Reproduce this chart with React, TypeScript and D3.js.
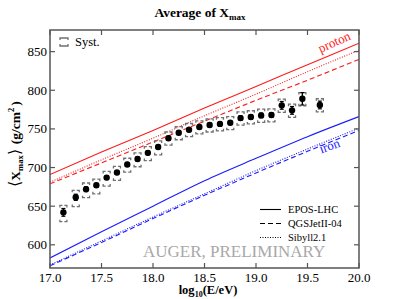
import React from "react";
import * as d3 from "d3";

const energy = [17.13, 17.25, 17.35, 17.45, 17.55, 17.65, 17.75, 17.85, 17.95, 18.05, 18.15, 18.25, 18.35, 18.45, 18.55, 18.65, 18.75, 18.85, 18.95, 19.05, 19.15, 19.25, 19.35, 19.45, 19.62];
const xmax = [642, 661.5, 672, 677, 687, 693.5, 704, 711, 719, 726.5, 738, 745, 749, 752.5, 755, 756.5, 758, 764, 765.5, 767.5, 768, 780.5, 774, 789, 781];
const statErr = [5, 4, 3, 2.5, 2.5, 2.5, 2.5, 2.5, 2.5, 2.5, 2.5, 2.5, 2.5, 2.5, 2.5, 2.5, 2.5, 3, 3, 3, 3, 5, 5, 8, 5];
const sysUp = [9, 9, 8, 8, 8, 8, 8, 8, 8, 8, 8, 8, 8, 8, 8, 8, 8, 8, 8, 8, 8, 8, 8, 8, 8];
const sysDown = [12, 12, 11, 11, 11, 10, 10, 10, 10, 10, 9, 9, 9, 9, 9, 9, 9, 9, 9, 9, 9, 9, 9, 9, 9];

const modelEnergy = [17, 17.5, 18, 18.5, 19, 19.5, 20];
const protonEPOS = [691, 720, 748, 777, 805, 833, 861];
const protonQGS = [679, 706, 733, 760, 787, 813, 840];
const protonSib = [681, 710, 738, 767, 795, 824, 852];
const ironEPOS = [583, 617, 650, 683, 712, 740, 766];
const ironQGS = [573, 603, 634, 664, 693, 721, 748];
const ironSib = [574, 605, 636, 666, 696, 724, 751];

const xTicks = [17.0, 17.5, 18.0, 18.5, 19.0, 19.5, 20.0];
const yTicks = [600, 650, 700, 750, 800, 850];
const modelNames = ["EPOS-LHC", "QGSJetII-04", "Sibyll2.1"];

const L = 50, R = 359, T = 30, B = 268;
const FONT = "Liberation Serif, Times New Roman, serif";

export default function App() {
  const x = d3.scaleLinear().domain([17, 20]).range([L, R]);
  const y = d3.scaleLinear().domain([570, 878]).range([B, T]);
  const line = d3.line<number>().x((_, i) => x(modelEnergy[i])).y((d) => y(d)).curve(d3.curveMonotoneX);

  const red = "#ff1a1a";
  const blue = "#1a1aff";
  const dashes = ["", "5,3", "1,1.5"];
  const models: { vals: number[]; color: string; dash: string }[] = [
    { vals: protonEPOS, color: red, dash: dashes[0] },
    { vals: protonQGS, color: red, dash: dashes[1] },
    { vals: protonSib, color: red, dash: dashes[2] },
    { vals: ironEPOS, color: blue, dash: dashes[0] },
    { vals: ironQGS, color: blue, dash: dashes[1] },
    { vals: ironSib, color: blue, dash: dashes[2] },
  ];

  const bw = 3.5;
  const tip = 2;
  const sysColor = "#707070";

  return (
    <svg width={399} height={299} style={{ position: "absolute", left: 0, top: 0, background: "#fff", fontFamily: FONT }}>
      <defs>
        <clipPath id="plotclip">
          <rect x={L} y={T} width={R - L} height={B - T} />
        </clipPath>
      </defs>
      {/* title */}
      <text x={200} y={17} textAnchor="middle" fontSize={13.5} fontWeight="bold">
        Average of X<tspan fontSize={9} dy={3}>max</tspan>
      </text>

      {/* model lines */}
      <g clipPath="url(#plotclip)">
        {models.map((m, i) => (
          <path key={i} d={line(m.vals) || ""} fill="none" stroke={m.color} strokeWidth={1.1} strokeDasharray={m.dash} />
        ))}
      </g>

      {/* systematics */}
      {energy.map((e, i) => {
        const cx = x(e);
        const yu = y(xmax[i] + sysUp[i]);
        const yd = y(xmax[i] - sysDown[i]);
        return (
          <g key={"s" + i} stroke={sysColor} strokeWidth={1.3} fill="none">
            <path d={`M${cx - bw},${yu + tip}V${yu}H${cx - 1}M${cx + 1},${yu}H${cx + bw}V${yu + tip}`} />
            <path d={`M${cx - bw},${yd - tip}V${yd}H${cx - 1}M${cx + 1},${yd}H${cx + bw}V${yd - tip}`} />
          </g>
        );
      })}

      {/* stat error bars + points */}
      {energy.map((e, i) => {
        const cx = x(e);
        const y1 = y(xmax[i] + statErr[i]);
        const y2 = y(xmax[i] - statErr[i]);
        return (
          <g key={"p" + i}>
            <line x1={cx} x2={cx} y1={y1} y2={y2} stroke="#000" strokeWidth={1.4} />
            <line x1={cx - 2} x2={cx + 2} y1={y1} y2={y1} stroke="#000" strokeWidth={1.2} />
            <line x1={cx - 2} x2={cx + 2} y1={y2} y2={y2} stroke="#000" strokeWidth={1.2} />
            <circle cx={cx} cy={y(xmax[i])} r={3.2} fill="#000" />
          </g>
        );
      })}

      {/* frame */}
      <rect x={L} y={T} width={R - L} height={B - T} fill="none" stroke="#555" strokeWidth={1.5} />
      {xTicks.map((t) => (
        <g key={"xt" + t}>
          <line x1={x(t)} x2={x(t)} y1={B} y2={B - 5} stroke="#555" strokeWidth={1.2} />
          <line x1={x(t)} x2={x(t)} y1={T} y2={T + 5} stroke="#555" strokeWidth={1.2} />
          <text x={x(t)} y={B + 13.5} textAnchor="middle" fontSize={13}>
            {t.toFixed(1)}
          </text>
        </g>
      ))}
      {yTicks.map((t) => (
        <g key={"yt" + t}>
          <line x1={L} x2={L + 5} y1={y(t)} y2={y(t)} stroke="#555" strokeWidth={1.2} />
          <line x1={R} x2={R - 5} y1={y(t)} y2={y(t)} stroke="#555" strokeWidth={1.2} />
          <text x={L - 3} y={y(t) + 4.5} textAnchor="end" fontSize={13}>
            {t}
          </text>
        </g>
      ))}

      {/* x label */}
      <text x={208} y={294} textAnchor="middle" fontSize={12.5} fontWeight="bold">
        log<tspan fontSize={8} dy={2.5}>10</tspan>
        <tspan dy={-2.5}>(E/eV)</tspan>
      </text>

      {/* y label */}
      <text transform={`translate(20,144) rotate(-90)`} textAnchor="middle" fontSize={13.5} fontWeight="bold">
        <tspan fontSize={16} fontWeight="normal">⟨</tspan>X<tspan fontSize={8.5} dy={3}>max</tspan>
        <tspan dy={-3} fontSize={16} fontWeight="normal">⟩</tspan>
        <tspan dx={5}>(g/cm</tspan>
        <tspan fontSize={8.5} dy={-6}>2</tspan>
        <tspan dy={6} dx={2}>)</tspan>
      </text>

      {/* proton / iron labels */}
      <text transform={`translate(336,46) rotate(-24)`} textAnchor="middle" fontSize={13} fill={red}>
        proton
      </text>
      <text transform={`translate(331,150) rotate(-20)`} textAnchor="middle" fontSize={13} fill={blue}>
        iron
      </text>

      {/* Syst legend */}
      <g stroke={sysColor} strokeWidth={1.3} fill="none">
        <path d={`M60,40V38H68V40`} />
        <path d={`M60,44V46H68V44`} />
      </g>
      <text x={75} y={46} fontSize={12.5}>
        Syst.
      </text>

      {/* model legend */}
      {modelNames.map((n, i) => (
        <g key={"lg" + i}>
          <line x1={260} x2={281} y1={209.5 + i * 14} y2={209.5 + i * 14} stroke="#000" strokeWidth={1.1} strokeDasharray={dashes[i]} />
          <text x={288} y={213 + i * 14} fontSize={10.5}>
            {n}
          </text>
        </g>
      ))}

      {/* preliminary */}
      <text x={143} y={257} fontSize={17} fill="#a8a8a8">
        AUGER, PRELIMINARY
      </text>
    </svg>
  );
}
